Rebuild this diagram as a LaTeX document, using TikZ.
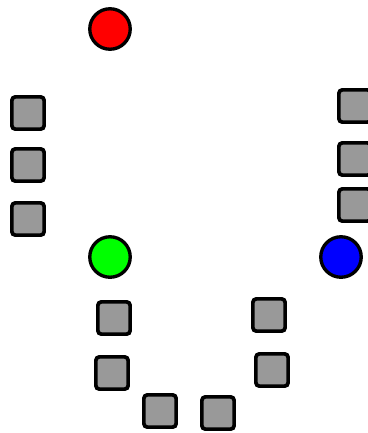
\documentclass[tikz,border=0pt]{standalone}
\usepackage{tikz}

\begin{document}
\begin{tikzpicture}[x=0.02cm, y=-0.02cm]

\definecolor{boxgray}{RGB}{153, 153, 153}
\definecolor{redball}{RGB}{255, 0, 0}
\definecolor{greenball}{RGB}{0, 255, 0}
\definecolor{blueball}{RGB}{0, 0, 255}

\tikzset{
  block/.style={draw=black, fill=boxgray, line width=2.1pt, rounded corners=2pt,
    minimum size=0.646cm, inner sep=0pt},
  ball/.style={circle, draw=black, line width=1.9pt, minimum size=0.81cm, inner sep=0pt}
}

\useasboundingbox (0, 0) rectangle (368, 433);

\node[ball, fill=redball] (red) at (110, 29) {};
\node[ball, fill=greenball] (green) at (110, 257) {};
\node[ball, fill=blueball] (blue) at (341, 257) {};

\node[block] (l1) at (28, 113) {};
\node[block] (l2) at (28, 165) {};
\node[block] (l3) at (28, 219) {};

\node[block] (r1) at (355, 106) {};
\node[block] (r2) at (355, 159) {};
\node[block] (r3) at (355, 205) {};

\node[block] (g1) at (114, 318) {};
\node[block] (g2) at (112, 373) {};
\node[block] (g3) at (160, 411) {};

\node[block] (b1) at (269, 315) {};
\node[block] (b2) at (272, 370) {};
\node[block] (b3) at (218, 413) {};

\end{tikzpicture}
\end{document}
